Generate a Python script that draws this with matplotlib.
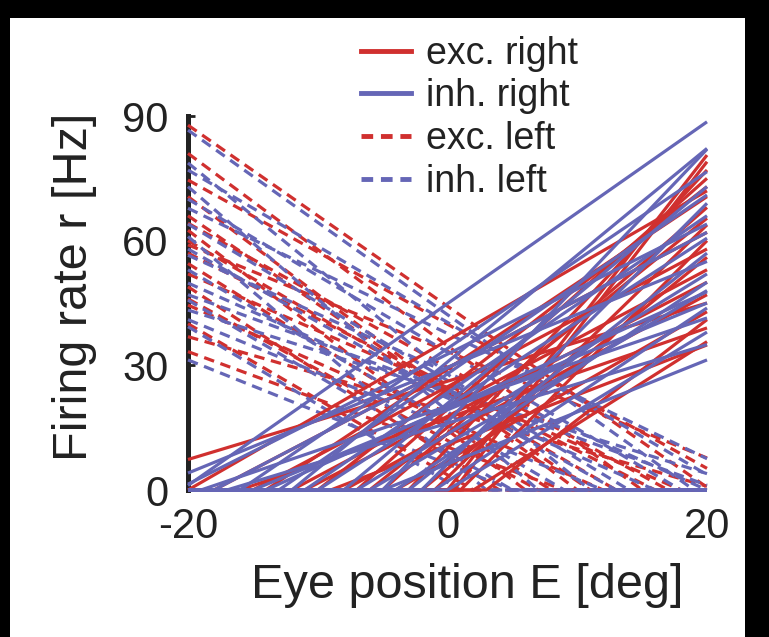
import numpy as np
import matplotlib
matplotlib.use("Agg")
import matplotlib.pyplot as plt
from matplotlib.lines import Line2D

plt.rcParams['font.family'] = ['Liberation Sans', 'DejaVu Sans']
plt.rcParams['axes.unicode_minus'] = False

# eye position range
E_range = [-20, 20]

# right-tuned neurons: threshold E0 (deg) and rate at E=+20 (Hz)
exc_right_E0 = [-27.8, 0.0, 0.5, -3, -10, -14, -6, -1, -18, -12, -8, -4, -16, 2, -9, 1, -2, -11, -20, -5, -15, -7, 3]
exc_right_r20 = [45, 80.6, 79, 77, 73, 70.6, 65.4, 63.8, 62, 53, 47, 42.9, 39, 35.7, 34.9, 60, 56, 50, 72, 68, 58, 75, 41]
inh_right_E0 = [-20.5, -12, -5, -16, -8, -2, -18, -10, -23.2, -4, -14, -1, -19, -5, -20.9, -11, -3, -15, -7, -17, -13, -6, 0]
inh_right_r20 = [88.6, 82.2, 82, 76.6, 73, 69, 62, 60.6, 55, 50, 47.7, 43.8, 41.4, 31.3, 64, 66, 57, 45, 52, 35, 71, 48, 38]

# left-tuned neurons: threshold E0 (deg, rate reaches 0) and rate at E=-20 (Hz)
exc_left_E0 = [20.3, 15, 23, 10, 17, 6, 13, 26, 8, 18, 4, 12, 21, 9, 2, 16, 11, 7]
exc_left_rm20 = [87.8, 81, 74.6, 70.6, 64.2, 62.5, 60, 59, 54.5, 52, 48.9, 44.5, 36.9, 33.3, 40, 57, 66, 46]
inh_left_E0 = [19, 11, 22, 7, 25, 3, 20, 9, 16, 5, 24, 12, 1, 5, 18, 14, 13, 21]
inh_left_rm20 = [86.6, 78.7, 77, 73, 67.8, 61, 56.5, 53, 49.8, 45.7, 43.3, 41, 39.3, 31.3, 70, 64, 58, 47]

RED = '#D0302F'
BLUE = '#6566B6'
TXT = '#222222'

W, H = 769, 637
fig = plt.figure(figsize=(W/100, H/100), dpi=100)
fig.patch.set_facecolor('white')

# black frame strips (left, top, right)
for rect in [(0, 0, 10/W, 1), (0, 1 - 18/H, 1, 18/H), (745/W, 0, 1 - 745/W, 1)]:
    b = fig.add_axes(rect)
    b.set_facecolor('black')
    b.set_xticks([]); b.set_yticks([])
    for s in b.spines.values():
        s.set_visible(False)

ax = fig.add_axes([188/W, (H-490)/H, (707-188)/W, (490-116)/H])
ax.set_facecolor('none')

E = np.linspace(E_range[0], E_range[1], 801)
lw = 2.3
dash = (0, (3.3, 2.1))

def draw_right(E0s, r20s, color):
    for e0, r in zip(E0s, r20s):
        k = r / (20 - e0)
        ax.plot(E, np.maximum(0, k * (E - e0)), color=color, lw=lw,
                solid_capstyle='butt', clip_on=False, zorder=3)

def draw_left(E0s, rm20s, color):
    for e0, r in zip(E0s, rm20s):
        k = r / (e0 + 20)
        ax.plot(E, np.maximum(0, k * (e0 - E)), color=color, lw=lw,
                linestyle=dash, clip_on=False, zorder=3)

draw_left(exc_left_E0, exc_left_rm20, RED)
draw_left(inh_left_E0, inh_left_rm20, BLUE)
draw_right(exc_right_E0, exc_right_r20, RED)
draw_right(inh_right_E0, inh_right_r20, BLUE)

ax.set_xlim(-20, 20)
ax.set_ylim(0, 90)
ax.set_xticks([-20, 0, 20])
ax.set_yticks([0, 30, 60, 90])
for s in ['top', 'right', 'bottom']:
    ax.spines[s].set_visible(False)
ax.spines['left'].set_linewidth(3.6)
ax.spines['left'].set_color(TXT)
ax.tick_params(axis='y', direction='in', length=5, width=2, pad=14,
               labelsize=30, colors=TXT)
ax.tick_params(axis='x', direction='in', length=0, pad=12,
               labelsize=30, colors=TXT)

ax.set_xlabel('Eye position E [deg]', fontsize=35, color=TXT)
ax.xaxis.set_label_coords(0.5376, -0.195)
ax.set_ylabel('Firing rate r [Hz]', fontsize=35, color=TXT)
ax.yaxis.set_label_coords(-0.175, 0.543)

handles = [Line2D([], [], color=RED, lw=3.5),
           Line2D([], [], color=BLUE, lw=3.5),
           Line2D([], [], color=RED, lw=3.5, linestyle=(0, (2.4, 1.6))),
           Line2D([], [], color=BLUE, lw=3.5, linestyle=(0, (2.4, 1.6)))]
labels = ['exc. right', 'inh. right', 'exc. left', 'inh. left']
leg = fig.legend(handles, labels, loc='upper left',
                 bbox_to_anchor=(327/W, 1 - 2/H), frameon=False,
                 fontsize=27, handlelength=1.35, handletextpad=0.4,
                 labelspacing=0.18, labelcolor=TXT)

fig.savefig('out.png', dpi=100, facecolor=fig.get_facecolor())
